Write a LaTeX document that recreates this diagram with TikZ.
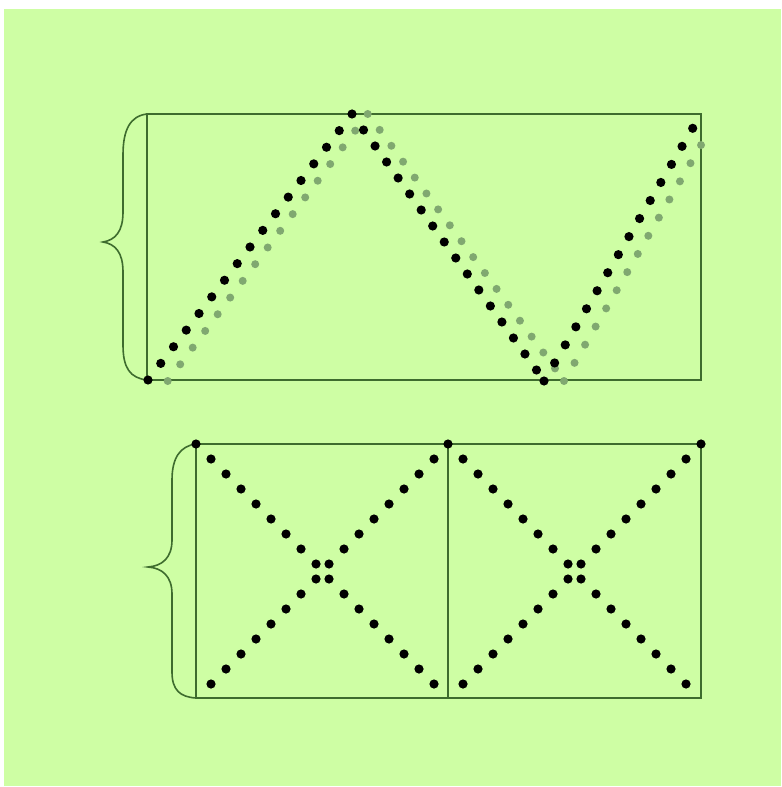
\documentclass[tikz,border=0pt]{standalone}
\definecolor{bg}{RGB}{206,254,164}
\definecolor{ln}{RGB}{62,108,46}
\definecolor{gdot}{RGB}{128,168,112}
\begin{document}
\begin{tikzpicture}[x=0.75pt,y=-0.75pt,
  bdot/.style={fill=black},
  gd/.style={fill=gdot},
  frame/.style={draw=ln,line width=1.3pt},
  brace/.style={draw=ln,line width=1.2pt}]
\useasboundingbox (0,0) rectangle (781,787);
\fill[white] (0,0) rectangle (781,787);
\fill[bg] (4,9) rectangle (781,786);
% ---------- top diagram ----------
\draw[frame] (147,114) rectangle (701,380);
\draw[brace] (147,114) .. controls (130,116) and (123,130) .. (123,155) -- (123,212)
  .. controls (123,232) and (115,240) .. (103,242)
  .. controls (115,244) and (123,252) .. (123,272) -- (123,345)
  .. controls (123,368) and (130,378) .. (147,380);
% gray dots
\foreach \i in {0,...,16} \fill[gd] ({167.7+\i*12.5},{381-\i*16.6875}) circle[radius=4];
\foreach \i in {1,...,16} \fill[gd] ({368+\i*11.6875},{114+\i*15.9}) circle[radius=4];
\fill[gd] (564,381) circle[radius=4];
\foreach \i in {1,...,13} \fill[gd] ({564+\i*10.54},{381-\i*18.15}) circle[radius=4];
% black dots
\foreach \i in {0,...,16} \fill[bdot] ({148+\i*12.75},{380-\i*16.625}) circle[radius=4.6];
\foreach \i in {1,...,16} \fill[bdot] ({352+\i*11.53},{114+\i*16}) circle[radius=4.6];
\fill[bdot] (544,381) circle[radius=4.6];
\foreach \i in {1,...,14} \fill[bdot] ({544+\i*10.62},{381-\i*18.05}) circle[radius=4.6];
% ---------- bottom diagram ----------
\draw[frame] (196,444) rectangle (701,698);
\draw[frame] (448,444) -- (448,698);
\draw[brace] (196,444) .. controls (180,446) and (172,458) .. (172,480) -- (172,540)
  .. controls (172,558) and (162,566) .. (148,567)
  .. controls (162,568) and (172,576) .. (172,594) -- (172,672)
  .. controls (172,690) and (180,697) .. (196,698);
\foreach \p in {(196,444),(448,444),(701,444)} \fill[bdot] \p circle[radius=4.6];
\foreach \o in {0,252} {
  \foreach \i in {0,...,7} {
    \fill[bdot] ({211+\o+15*\i},{459+15*\i}) circle[radius=4.6];
    \fill[bdot] ({434+\o-15*\i},{459+15*\i}) circle[radius=4.6];
    \fill[bdot] ({211+\o+15*\i},{684-15*\i}) circle[radius=4.6];
    \fill[bdot] ({434+\o-15*\i},{684-15*\i}) circle[radius=4.6];
  }
}
\end{tikzpicture}
\end{document}
